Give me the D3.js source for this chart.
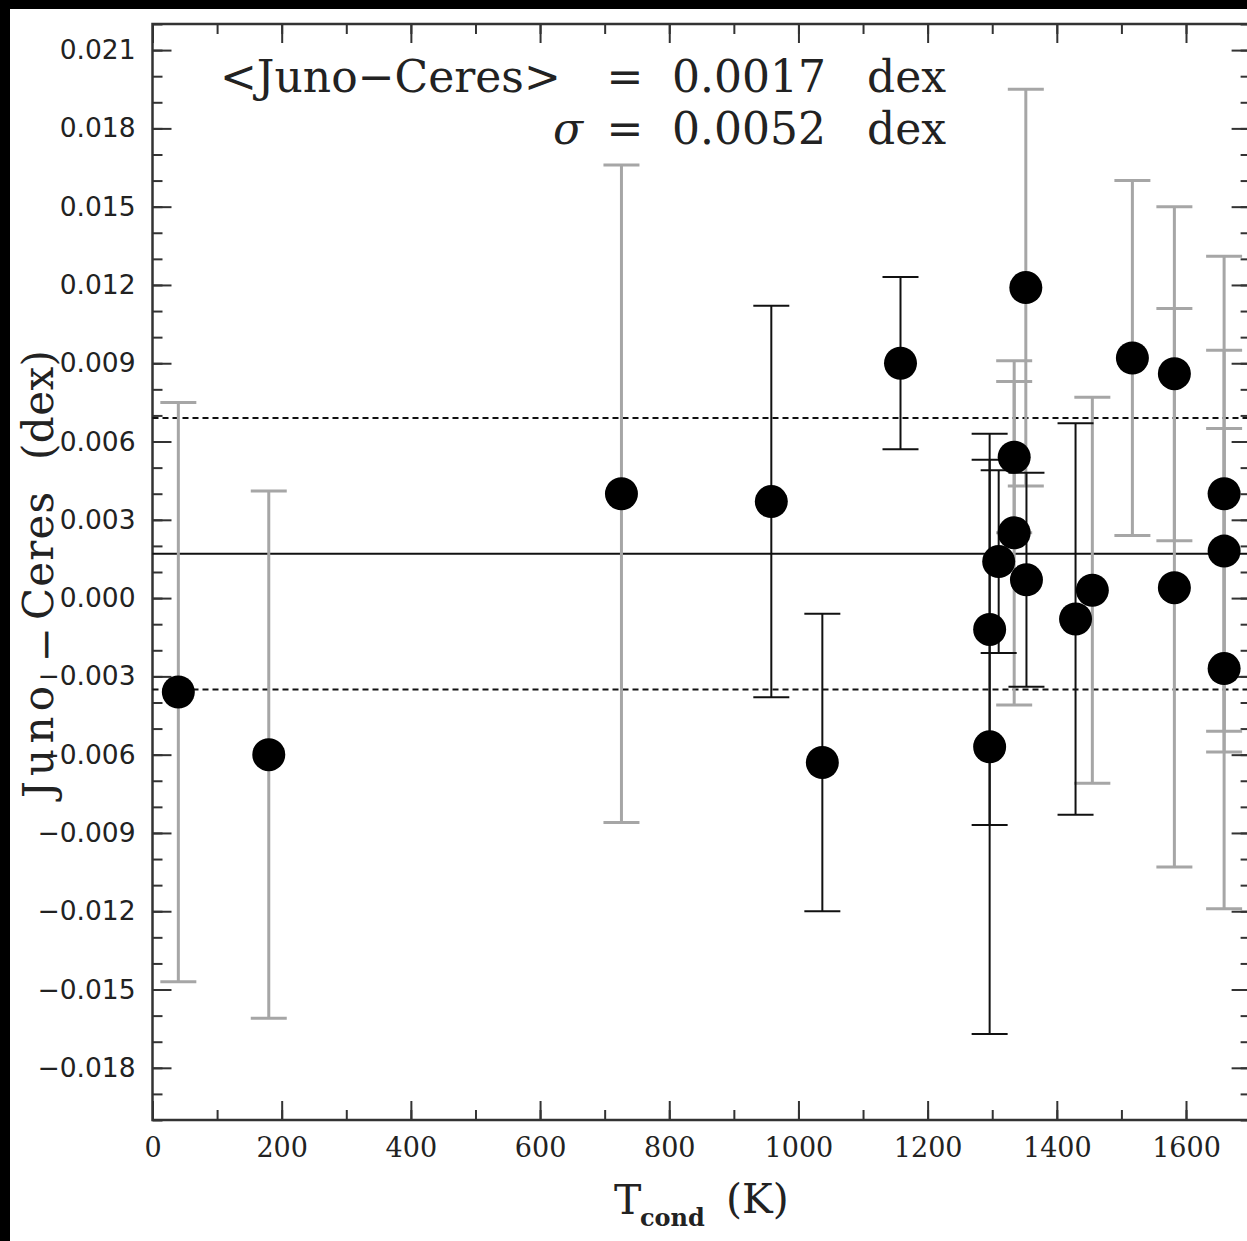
<!DOCTYPE html>
<html>
<head>
<meta charset="utf-8">
<script src="https://cdn.jsdelivr.net/npm/d3@7"></script>
<style>
  html, body { margin: 0; padding: 0; background: #000; overflow: hidden; }
  svg { display: block; }
</style>
</head>
<body>
<svg id="chart" width="1247" height="1241"></svg>
<script>
// Species measured, their condensation temperatures (K),
// the Juno − Ceres abundance differences (dex) and 1-sigma errors (dex)
const species = ["C", "O", "Zn", "Na", "Cu", "Mn", "Cr I", "Cr II", "Si", "Fe I", "Fe II",
                 "Co", "Ni", "V", "Ba", "Ca", "Ti I", "Ti II", "Sc I", "Sc II", "Y"];
const tcond = [40, 180, 726, 958, 1037, 1158, 1296, 1296, 1310, 1334, 1334,
               1352, 1353, 1429, 1455, 1517, 1582, 1582, 1659, 1659, 1659];
const diff = [-0.0036, -0.0060, 0.0040, 0.0037, -0.0063, 0.0090, -0.0012, -0.0057, 0.0014, 0.0025, 0.0054,
              0.0119, 0.0007, -0.0008, 0.0003, 0.0092, 0.0086, 0.0004, 0.0040, 0.0018, -0.0027];
const err = [0.0111, 0.0101, 0.0126, 0.0075, 0.0057, 0.0033, 0.0075, 0.0110, 0.0035, 0.0066, 0.0029,
             0.0076, 0.0041, 0.0075, 0.0074, 0.0068, 0.0064, 0.0107, 0.0091, 0.0077, 0.0092];

// Mean difference and scatter
const meanDiff = 0.0017;
const sigma = 0.0052;

// Axis ticks
const xTickValues = [0, 200, 400, 600, 800, 1000, 1200, 1400, 1600];
const yTickValues = [-0.018, -0.015, -0.012, -0.009, -0.006, -0.003, 0.000,
                     0.003, 0.006, 0.009, 0.012, 0.015, 0.018, 0.021];

// ---- drawing ----
const W = 1247, H = 1241;
const svg = d3.select("#chart");

svg.append("rect")
  .attr("x", 10).attr("y", 9)
  .attr("width", W - 10).attr("height", H - 9)
  .attr("fill", "#fff");

const x = d3.scaleLinear().domain([0, 1700]).range([152.5, 1250.6]);
const y = d3.scaleLinear().domain([-0.020, 0.022]).range([1120, 24]);

const axisColor = "#333";
const majorLen = 19, minorLen = 10;
const xMinor = x.ticks(17);
const yMinor = d3.range(-20, 23).map(k => k / 1000);

function styleAxis(g) {
  g.select(".domain").remove();
  g.selectAll(".tick line").attr("stroke", axisColor).attr("stroke-width", 2);
}

// left axis
svg.append("g").attr("transform", `translate(${x(0)},0)`)
  .call(d3.axisLeft(y).tickValues(yMinor).tickSizeInner(-minorLen).tickSizeOuter(0).tickFormat(""))
  .call(styleAxis);
svg.append("g").attr("transform", `translate(${x(0)},0)`)
  .call(d3.axisLeft(y).tickValues(yTickValues).tickSizeInner(-majorLen).tickSizeOuter(0)
        .tickPadding(17).tickFormat(d3.format(".3f")))
  .call(styleAxis)
  .call(g => g.selectAll("text")
    .attr("font-family", "'DejaVu Sans', sans-serif")
    .attr("font-size", 26.5)
    .attr("fill", "#222"));

// right axis
svg.append("g").attr("transform", `translate(${x(1700)},0)`)
  .call(d3.axisRight(y).tickValues(yMinor).tickSizeInner(-minorLen).tickSizeOuter(0).tickFormat(""))
  .call(styleAxis);
svg.append("g").attr("transform", `translate(${x(1700)},0)`)
  .call(d3.axisRight(y).tickValues(yTickValues).tickSizeInner(-majorLen).tickSizeOuter(0).tickFormat(""))
  .call(styleAxis);

// bottom axis
svg.append("g").attr("transform", `translate(0,${y(-0.020)})`)
  .call(d3.axisBottom(x).tickValues(xMinor).tickSizeInner(-minorLen).tickSizeOuter(0).tickFormat(""))
  .call(styleAxis);
svg.append("g").attr("transform", `translate(0,${y(-0.020)})`)
  .call(d3.axisBottom(x).tickValues(xTickValues).tickSizeInner(-majorLen).tickSizeOuter(0)
        .tickPadding(18).tickFormat(d3.format("d")))
  .call(styleAxis)
  .call(g => g.selectAll("text")
    .attr("font-family", "'DejaVu Serif', serif")
    .attr("font-size", 27)
    .attr("fill", "#222"));

// top axis
svg.append("g").attr("transform", `translate(0,${y(0.022)})`)
  .call(d3.axisTop(x).tickValues(xMinor).tickSizeInner(-minorLen).tickSizeOuter(0).tickFormat(""))
  .call(styleAxis);
svg.append("g").attr("transform", `translate(0,${y(0.022)})`)
  .call(d3.axisTop(x).tickValues(xTickValues).tickSizeInner(-majorLen).tickSizeOuter(0).tickFormat(""))
  .call(styleAxis);

// frame
svg.append("rect")
  .attr("x", x(0)).attr("y", y(0.022))
  .attr("width", x(1700) - x(0)).attr("height", y(-0.020) - y(0.022))
  .attr("fill", "none").attr("stroke", axisColor).attr("stroke-width", 2.5);

// mean and ±1 sigma lines
const refLines = [
  { v: meanDiff, dash: null },
  { v: meanDiff + sigma, dash: "6,4" },
  { v: meanDiff - sigma, dash: "6,4" }
];
svg.append("g").selectAll("line").data(refLines).join("line")
  .attr("x1", x(0)).attr("x2", x(1700))
  .attr("y1", d => y(d.v)).attr("y2", d => y(d.v))
  .attr("stroke", "#111").attr("stroke-width", 2)
  .attr("stroke-dasharray", d => d.dash);

// error bars: some species drawn in light grey, the rest in black
const lightBars = new Set(["C", "O", "Zn", "Fe I", "Fe II", "Co", "Ba", "Ca", "Ti I", "Ti II", "Sc I", "Sc II", "Y"]);
const points = species.map((s, i) => ({ s, t: tcond[i], v: diff[i], e: err[i], light: lightBars.has(s) }));
const ordered = points.filter(p => p.light).concat(points.filter(p => !p.light));
const capHalf = 18;

const bars = svg.append("g").selectAll("g").data(ordered).join("g")
  .attr("stroke", d => d.light ? "#a6a6a6" : "#111")
  .attr("stroke-width", d => d.light ? 3 : 2);
bars.append("line")
  .attr("x1", d => x(d.t)).attr("x2", d => x(d.t))
  .attr("y1", d => y(d.v + d.e)).attr("y2", d => y(d.v - d.e));
bars.append("line")
  .attr("x1", d => x(d.t) - capHalf).attr("x2", d => x(d.t) + capHalf)
  .attr("y1", d => y(d.v + d.e)).attr("y2", d => y(d.v + d.e));
bars.append("line")
  .attr("x1", d => x(d.t) - capHalf).attr("x2", d => x(d.t) + capHalf)
  .attr("y1", d => y(d.v - d.e)).attr("y2", d => y(d.v - d.e));

// points
svg.append("g").selectAll("circle").data(points).join("circle")
  .attr("cx", d => x(d.t)).attr("cy", d => y(d.v))
  .attr("r", 16.5).attr("fill", "#000");

// annotation
const serif = "'DejaVu Serif', serif";
const ann = svg.append("g").attr("font-family", serif).attr("font-size", 44).attr("fill", "#222");
ann.append("text").attr("x", 220).attr("y", 92).text("<Juno\u2212Ceres>");
ann.append("text").attr("x", 625).attr("y", 92).attr("text-anchor", "middle").text("=");
ann.append("text").attr("x", 672).attr("y", 92).text(d3.format(".4f")(meanDiff));
ann.append("text").attr("x", 946).attr("y", 92).attr("text-anchor", "end").text("dex");
ann.append("text").attr("x", 568).attr("y", 144).attr("text-anchor", "middle")
  .attr("font-style", "italic").text("\u03c3");
ann.append("text").attr("x", 625).attr("y", 144).attr("text-anchor", "middle").text("=");
ann.append("text").attr("x", 672).attr("y", 144).text(d3.format(".4f")(sigma));
ann.append("text").attr("x", 946).attr("y", 144).attr("text-anchor", "end").text("dex");

// x-axis title
const xt = svg.append("g").attr("font-family", serif).attr("fill", "#222");
xt.append("text").attr("x", 614).attr("y", 1214).attr("font-size", 41).text("T");
xt.append("text").attr("x", 640).attr("y", 1226).attr("font-size", 24).attr("font-weight", "bold").text("cond");
xt.append("text").attr("x", 726).attr("y", 1213).attr("font-size", 41).text("(K)");

// y-axis title (reads bottom to top)
const yt = svg.append("g").attr("transform", "translate(53,0) rotate(-90)")
  .attr("font-family", serif).attr("font-size", 42).attr("fill", "#222");
yt.append("text").attr("x", -798).attr("y", 0)
  .attr("textLength", 112).attr("lengthAdjust", "spacing").text("Juno");
yt.append("text").attr("x", -645).attr("y", 0).attr("dy", 7)
  .attr("text-anchor", "middle").text("\u2212");
yt.append("text").attr("x", -620).attr("y", 0)
  .attr("textLength", 128).attr("lengthAdjust", "spacing").text("Ceres");
yt.append("text").attr("x", -460).attr("y", 0)
  .attr("textLength", 110).attr("lengthAdjust", "spacing").text("(dex)");
</script>
</body>
</html>
